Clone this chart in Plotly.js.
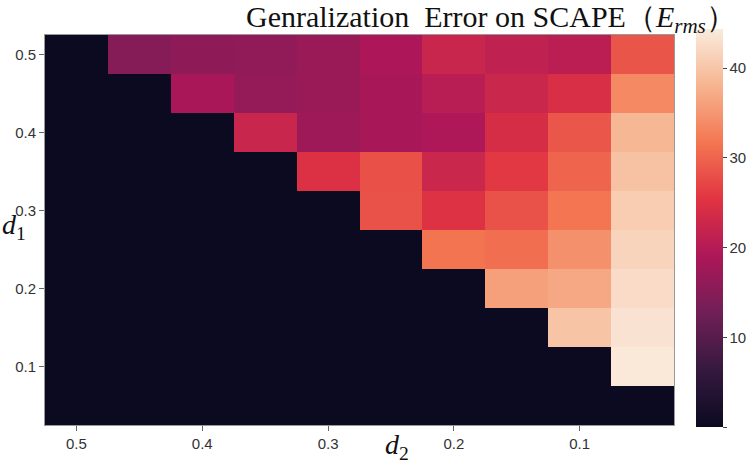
<!DOCTYPE html>
<html>
<head>
<meta charset="utf-8">
<script src="https://cdn.plot.ly/plotly-3.0.1.min.js"></script>
<style>
  body { margin: 0; background: #fff; }
  #chart { width: 748px; height: 463px; }
</style>
</head>
<body>
<div id="chart"></div>
<script>
// d2 along x (reversed), d1 along y
var d2Values = [0.5, 0.45, 0.4, 0.35, 0.3, 0.25, 0.2, 0.15, 0.1, 0.05];
var d1Values = [0.05, 0.1, 0.15, 0.2, 0.25, 0.3, 0.35, 0.4, 0.45, 0.5];

// E_rms, one row per d1 (bottom to top), zero where d2 >= d1
var errRows = [
    [0, 0, 0, 0, 0, 0, 0, 0, 0, 0],
    [0, 0, 0, 0, 0, 0, 0, 0, 0, 44.0],
    [0, 0, 0, 0, 0, 0, 0, 0, 39.8, 43.3],
    [0, 0, 0, 0, 0, 0, 0, 35.9, 36.7, 42.5],
    [0, 0, 0, 0, 0, 0, 31.4, 31.0, 34.3, 41.6],
    [0, 0, 0, 0, 0, 28.2, 24.8, 28.2, 31.5, 40.8],
    [0, 0, 0, 0, 24.7, 28.0, 22.5, 25.8, 29.9, 39.6],
    [0, 0, 0, 22.3, 17.3, 18.5, 19.2, 24.0, 28.6, 38.4],
    [0, 0, 18.7, 16.5, 17.0, 18.5, 20.3, 22.5, 24.3, 33.6],
    [0, 14.9, 15.8, 16.0, 17.0, 19.0, 22.3, 21.2, 20.6, 28.5]
];

var xTicks = [0.5, 0.4, 0.3, 0.2, 0.1];
var yTicks = [0.1, 0.2, 0.3, 0.4, 0.5];
var cbarTicks = [0, 10, 20, 30, 40];

// seaborn "rocket"-like colour scale
var rocket = [
    [0.0, '#0b0a21'],
    [0.143, '#35193e'],
    [0.286, '#701f57'],
    [0.429, '#ad1759'],
    [0.571, '#e13342'],
    [0.714, '#f37651'],
    [0.857, '#f6b48f'],
    [1.0, '#faebdd']
];

var tickFont = { family: 'Liberation Sans, Arial, sans-serif', size: 15, color: '#333' };
var serif = 'Liberation Serif, Times New Roman, serif';

var heat = {
    type: 'heatmap',
    x: d2Values,
    y: d1Values,
    z: errRows,
    zmin: 0,
    zmax: 44.3,
    colorscale: rocket,
    colorbar: {
        xref: 'container',
        x: 696 / 748,
        xanchor: 'left',
        yref: 'container',
        y: 1 - 35 / 463,
        yanchor: 'top',
        len: 398,
        lenmode: 'pixels',
        ypad: 0,
        xpad: 0,
        thickness: 27,
        outlinewidth: 0,
        tickvals: cbarTicks,
        ticks: 'outside',
        ticklen: 4,
        tickcolor: '#444',
        tickfont: tickFont
    }
};

var layout = {
    width: 748,
    height: 463,
    margin: { l: 45, r: 74, t: 35, b: 38 },
    paper_bgcolor: '#fff',
    plot_bgcolor: '#fff',
    title: {
        text: 'Genralization\u00a0\u00a0Error on SCAPE（<i>E<sub>rms</sub></i>）',
        font: { family: serif, size: 30, color: '#111' },
        xref: 'container',
        x: 246 / 748,
        xanchor: 'left',
        yref: 'container',
        y: 0.965,
        yanchor: 'middle'
    },
    xaxis: {
        range: [0.525, 0.025],
        tickvals: xTicks,
        ticktext: xTicks.map(function (v) { return v.toFixed(1); }),
        ticks: 'outside',
        ticklen: 5,
        tickcolor: '#666',
        tickfont: tickFont,
        showgrid: false,
        zeroline: false,
        showline: true,
        mirror: true,
        linecolor: '#999',
        linewidth: 1
    },
    yaxis: {
        range: [0.025, 0.525],
        tickvals: yTicks,
        ticktext: yTicks.map(function (v) { return v.toFixed(1); }),
        ticks: 'outside',
        ticklen: 5,
        tickcolor: '#666',
        tickfont: tickFont,
        showgrid: false,
        zeroline: false,
        showline: true,
        mirror: true,
        linecolor: '#999',
        linewidth: 1
    },
    // axis titles placed by hand to match the reference
    annotations: [
        {
            text: '<i>d</i><sub>2</sub>',
            xref: 'paper', yref: 'paper',
            x: 0.56, y: -0.055,
            xanchor: 'center', yanchor: 'middle',
            showarrow: false,
            font: { family: serif, size: 28, color: '#111' }
        },
        {
            text: '<i>d</i><sub>1</sub>',
            xref: 'paper', yref: 'paper',
            x: -0.072, y: 0.51,
            xanchor: 'left', yanchor: 'middle',
            showarrow: false,
            font: { family: serif, size: 28, color: '#111' }
        }
    ]
};

Plotly.newPlot('chart', [heat], layout, { displayModeBar: false, staticPlot: true });
</script>
</body>
</html>
